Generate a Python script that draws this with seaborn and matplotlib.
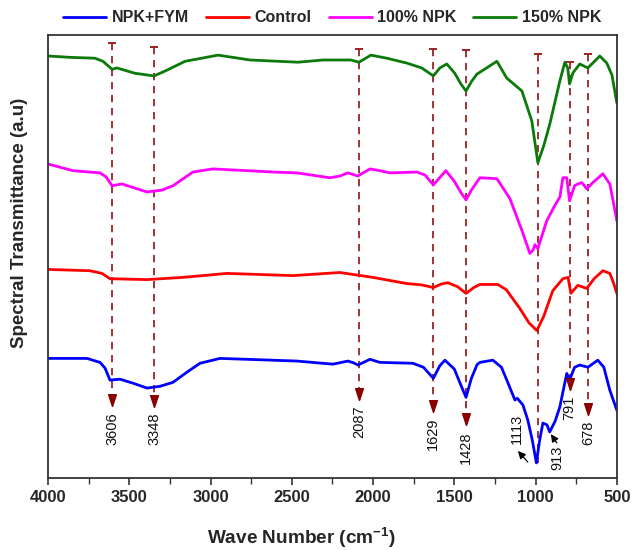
import numpy as np
import pandas as pd
import matplotlib
matplotlib.use("Agg")
import matplotlib.pyplot as plt
import seaborn as sns

# FTIR spectra of soil samples (stacked, arbitrary transmittance units)
series_names = ["NPK+FYM", "Control", "100% NPK", "150% NPK"]
series_colors = ["#0000ff", "#ff0000", "#ff00ff", "#0b7a0b"]

wn_fym = [4000, 3760, 3680, 3649, 3619, 3557, 3477, 3391, 3311, 3231, 3145, 3065, 2942,
          2700, 2468, 2247, 2155, 2120, 2093, 2019, 1958, 1755, 1690, 1629, 1590, 1558,
          1500, 1460, 1428, 1395, 1360, 1343, 1263, 1210, 1177, 1127, 1113, 1078, 1048,
          1020, 995, 975, 955, 930, 913, 880, 851, 808, 791, 760, 728, 678, 640, 617,
          580, 543, 500]
t_fym = [27.0, 27.0, 26.1, 24.8, 22.1, 22.3, 21.4, 20.3, 20.7, 21.6, 23.9, 25.9, 27.0,
         26.7, 26.4, 25.7, 26.4, 26.0, 25.5, 26.8, 26.1, 25.9, 25.0, 22.5, 25.3, 26.6,
         24.6, 21.0, 18.2, 22.5, 25.6, 26.1, 26.6, 25.0, 22.1, 17.6, 18.0, 16.5, 13.1,
         8.5, 3.4, 8.5, 12.4, 12.0, 10.4, 12.8, 16.0, 23.6, 22.1, 25.0, 25.5, 25.0,
         26.0, 26.6, 25.0, 19.8, 15.3]

wn_ctrl = [4000, 3742, 3668, 3619, 3391, 3170, 2899, 2493, 2204, 2001, 1792, 1700, 1629,
           1580, 1540, 1480, 1428, 1380, 1343, 1232, 1180, 1097, 1040, 992, 950, 894,
           832, 800, 783, 740, 685, 640, 586, 543, 520, 500]
t_ctrl = [47.1, 46.8, 46.2, 45.0, 44.8, 45.3, 46.2, 45.7, 46.4, 45.3, 43.9, 43.6, 43.0,
          43.8, 44.1, 43.2, 41.7, 43.0, 43.7, 43.7, 42.5, 38.3, 35.0, 33.3, 36.5, 42.3,
          45.0, 45.3, 41.7, 43.5, 42.8, 45.0, 46.8, 46.2, 44.0, 41.7]

wn_100 = [4000, 3846, 3680, 3643, 3606, 3545, 3460, 3391, 3300, 3231, 3160, 3108, 2985,
          2616, 2468, 2265, 2204, 2155, 2093, 2019, 1958, 1896, 1730, 1680, 1629, 1552,
          1500, 1460, 1428, 1395, 1343, 1238, 1158, 1084, 1035, 1015, 1004, 986, 931,
          882, 850, 832, 808, 791, 760, 740, 715, 685, 648, 586, 543, 520, 500]
t_100 = [70.9, 69.4, 68.9, 68.0, 66.0, 66.4, 65.4, 64.6, 65.0, 66.0, 67.8, 69.1, 69.8,
         69.1, 68.9, 67.8, 68.2, 68.9, 68.2, 69.8, 69.4, 68.9, 69.1, 68.4, 66.2, 69.4,
         67.0, 64.5, 62.8, 65.0, 67.8, 67.6, 63.1, 55.9, 50.7, 51.5, 52.7, 51.8, 58.1,
         61.5, 63.5, 67.8, 67.8, 62.6, 66.0, 66.4, 66.7, 65.3, 66.7, 68.7, 66.4, 62.0,
         58.1]

wn_150 = [4000, 3865, 3711, 3662, 3606, 3576, 3465, 3348, 3280, 3157, 2954, 2757, 2462,
          2308, 2136, 2087, 2013, 1915, 1792, 1700, 1629, 1589, 1546, 1497, 1460, 1428,
          1395, 1361, 1238, 1177, 1084, 1023, 986, 950, 912, 851, 820, 802, 791, 770,
          728, 678, 605, 562, 530, 500]
t_150 = [95.3, 95.0, 94.8, 94.1, 92.3, 92.6, 91.4, 90.8, 91.9, 94.1, 95.5, 94.4, 93.9,
         94.4, 94.4, 93.9, 95.5, 94.8, 93.7, 92.6, 90.8, 92.6, 93.5, 91.4, 89.0, 87.4,
         89.5, 91.2, 94.1, 90.3, 87.4, 80.6, 71.2, 75.0, 80.0, 89.6, 93.9, 92.6, 89.0,
         91.5, 93.5, 92.6, 95.3, 93.7, 91.0, 84.7]

# Assigned absorption bands: dashed guide from the top down to an arrow head
peak_wn = [3606, 3348, 2087, 1629, 1428, 985, 791, 678]
peak_top = [98.2, 97.3, 96.8, 96.8, 96.6, 95.7, 93.9, 95.7]
peak_tip = [16.2, 16.0, 17.6, 14.9, 11.9, 3.4, 19.8, 14.2]
peak_text = ["3606", "3348", "2087", "1629", "1428", "", "791", "678"]

# Bands marked with a small black arrow
side_text = ["1113", "913"]
side_label_pos = [(1115, 14.6), (863, 7.4)]
side_arrow_from = [(1048, 3.6), (869, 7.9)]
side_arrow_to = [(1109, 6.1), (906, 9.9)]

x_ticks = [4000, 3500, 3000, 2500, 2000, 1500, 1000, 500]

frames = []
for name, wn, t in [("NPK+FYM", wn_fym, t_fym), ("Control", wn_ctrl, t_ctrl),
                    ("100% NPK", wn_100, t_100), ("150% NPK", wn_150, t_150)]:
    frames.append(pd.DataFrame({"wn": wn, "t": t, "sample": name}))
df = pd.concat(frames, ignore_index=True)

sns.set_style("ticks")
plt.rcParams["font.family"] = ["Liberation Sans", "DejaVu Sans"]
plt.rcParams["mathtext.fontset"] = "custom"
plt.rcParams["mathtext.rm"] = "Liberation Sans"
plt.rcParams["mathtext.bf"] = "Liberation Sans:bold"

fig = plt.figure(figsize=(6.32, 5.5), dpi=100)
ax = fig.add_axes([0.076, 0.131, 0.9, 0.805])

sns.lineplot(data=df, x="wn", y="t", hue="sample", hue_order=series_names,
             palette=dict(zip(series_names, series_colors)), estimator=None,
             sort=False, linewidth=2.0, solid_joinstyle="round", ax=ax)

guide_color = "#9b2222"
head_color = "#8b0000"
head_marker = [(0, 0), (-0.33, 1), (0.33, 1), (0, 0)]
for wn, top, tip, txt in zip(peak_wn, peak_top, peak_tip, peak_text):
    end = tip + 2.0 if txt else tip
    ax.plot([wn, wn], [top, end], color=guide_color, lw=1.3,
            linestyle=(0, (4.0, 3.2)), zorder=1)
    ax.plot([wn], [top], marker="_", ms=6, mew=1.4, color=guide_color, zorder=1)
    if txt:
        ax.plot([wn], [tip], marker=head_marker, ms=17, color=head_color,
                mec=head_color, lw=0, zorder=3)
        ax.text(wn, tip - 1.3, txt, rotation=90, ha="center", va="top",
                fontsize=10.5, color="#111111")

for txt, pos, a0, a1 in zip(side_text, side_label_pos, side_arrow_from, side_arrow_to):
    ax.text(pos[0], pos[1], txt, rotation=90, ha="center", va="top",
            fontsize=10.5, color="#111111")
    ax.annotate("", xy=a1, xytext=a0,
                arrowprops=dict(arrowstyle="-|>,head_length=0.45,head_width=0.22",
                                color="black", lw=0.9, shrinkA=0, shrinkB=0))

ax.set_xlim(4000, 500)
ax.set_ylim(0, 100)
ax.set_xticks(x_ticks)
ax.set_xticklabels([str(v) for v in x_ticks], fontweight="bold", fontsize=12)
ax.set_xticks([3750, 3250, 2750, 2250, 1750, 1250, 750], minor=True)
ax.tick_params(axis="x", which="major", direction="out", length=5, width=1.2,
               color="#333333", pad=4)
ax.tick_params(axis="x", which="minor", direction="out", length=4, width=1.0,
               color="#333333")
ax.set_yticks([])
for sp in ax.spines.values():
    sp.set_color("#333333")
    sp.set_linewidth(1.3)

ax.set_xlabel(r"Wave Number (cm$^{\mathbf{-1}}$)", fontsize=13.7, fontweight="bold")
ax.xaxis.set_label_coords(0.445, -0.106)
ax.set_ylabel("Spectral Transmittance (a.u)", fontsize=13.5, fontweight="bold")
ax.yaxis.set_label_coords(-0.036, 0.575)

handles, labels = ax.get_legend_handles_labels()
leg = ax.legend(handles, labels, loc="lower center", bbox_to_anchor=(0.5, 1.008),
                ncol=4, frameon=False, handlelength=2.7, handletextpad=0.35,
                columnspacing=1.05, borderaxespad=0.0,
                prop={"weight": "bold", "size": 11.5})
for line in leg.get_lines():
    line.set_linewidth(2.0)

fig.savefig("out.png", dpi=100, facecolor="white")
